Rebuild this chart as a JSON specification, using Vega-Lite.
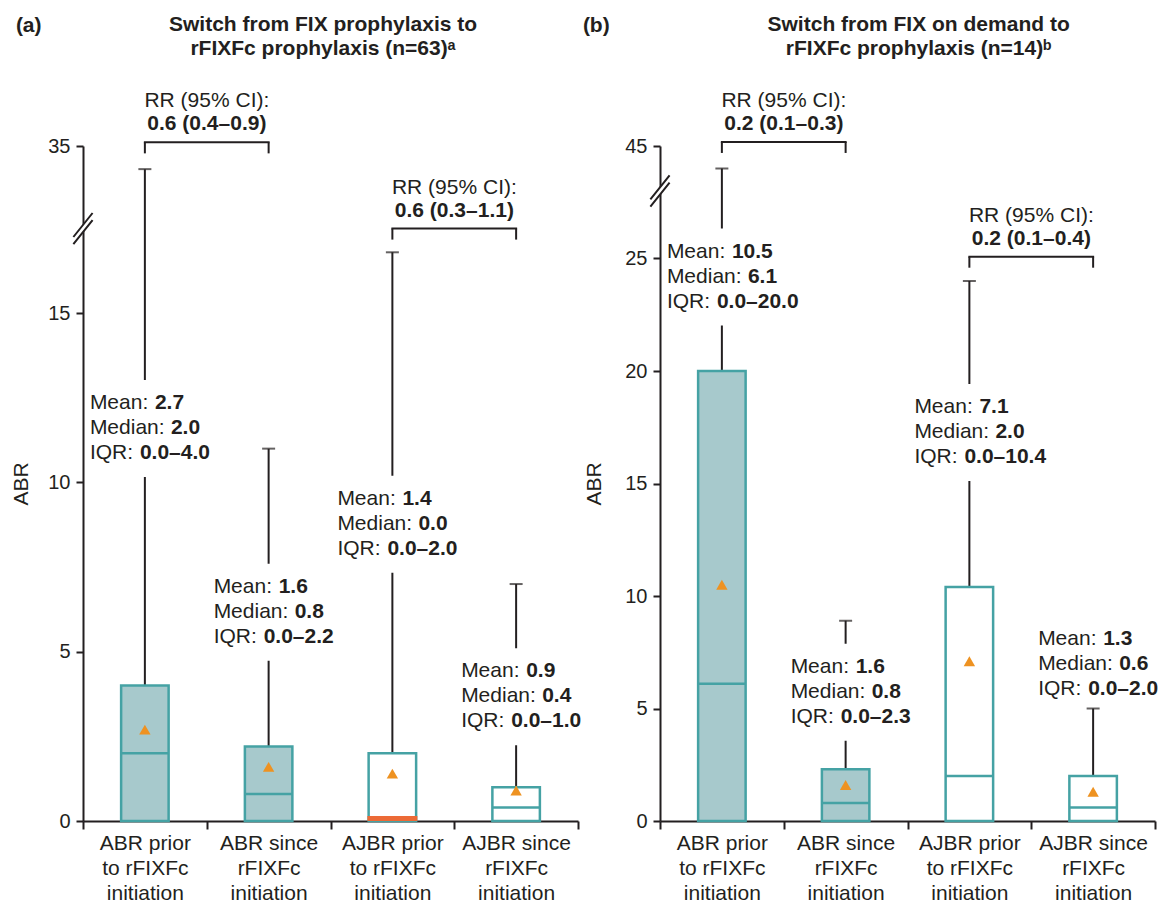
{
  "$schema": "https://vega.github.io/schema/vega-lite/v6.json",
  "padding": {"left": 10, "top": 14, "right": 2, "bottom": 2},
  "spacing": 0,
  "config": {
    "font": "Liberation Sans",
    "view": {"stroke": null},
    "axis": {"grid": false, "domainColor": "#231f20", "domainWidth": 2, "tickColor": "#231f20", "tickWidth": 2, "labelColor": "#231f20", "titleColor": "#231f20", "titleFontWeight": "normal", "titleFontSize": 21, "labelFont": "Liberation Sans", "titleFont": "Liberation Sans"},
    "axisY": {"tickSize": 7, "labelFontSize": 20, "labelPadding": 6, "titlePadding": 16},
    "axisX": {"tickSize": 8, "labelFontSize": 21, "labelPadding": 3, "labelLineHeight": 25, "labelAngle": 0, "tickBand": "extent", "labelOverlap": false, "labelBound": false},
    "text": {"font": "Liberation Sans", "fontSize": 21, "color": "#231f20"}
  },
  "datasets": {
    "boxes_a": [
      {"cat": "ABR prior to rFIXFc initiation", "type": "ABR", "q1": 0, "median": 2.0, "q3": 4.0, "mean": 2.7, "max": 34.3, "label_y": 12.17, "iqr": "0.0–4.0"},
      {"cat": "ABR since rFIXFc initiation", "type": "ABR", "q1": 0, "median": 0.8, "q3": 2.2, "mean": 1.6, "max": 11.0, "label_y": 6.74, "iqr": "0.0–2.2"},
      {"cat": "AJBR prior to rFIXFc initiation", "type": "AJBR", "q1": 0, "median": 0.0, "q3": 2.0, "mean": 1.4, "max": 16.8, "label_y": 9.34, "iqr": "0.0–2.0"},
      {"cat": "AJBR since rFIXFc initiation", "type": "AJBR", "q1": 0, "median": 0.4, "q3": 1.0, "mean": 0.9, "max": 7.0, "label_y": 4.25, "iqr": "0.0–1.0"}
    ],
    "boxes_b": [
      {"cat": "ABR prior to rFIXFc initiation", "type": "ABR", "q1": 0, "median": 6.1, "q3": 20.0, "mean": 10.5, "max": 44.0, "label_y": 25.04, "iqr": "0.0–20.0"},
      {"cat": "ABR since rFIXFc initiation", "type": "ABR", "q1": 0, "median": 0.8, "q3": 2.3, "mean": 1.6, "max": 8.9, "label_y": 6.59, "iqr": "0.0–2.3"},
      {"cat": "AJBR prior to rFIXFc initiation", "type": "AJBR", "q1": 0, "median": 2.0, "q3": 10.4, "mean": 7.1, "max": 24.0, "label_y": 18.13, "iqr": "0.0–10.4"},
      {"cat": "AJBR since rFIXFc initiation", "type": "AJBR", "q1": 0, "median": 0.6, "q3": 2.0, "mean": 1.3, "max": 5.0, "label_y": 7.82, "iqr": "0.0–2.0"}
    ],
    "brackets_a": [
      {"cat": "ABR prior to rFIXFc initiation", "cat2": "ABR since rFIXFc initiation", "by": 35.11, "rr": "0.6 (0.4–0.9)"},
      {"cat": "AJBR prior to rFIXFc initiation", "cat2": "AJBR since rFIXFc initiation", "by": 17.5, "rr": "0.6 (0.3–1.1)"}
    ],
    "brackets_b": [
      {"cat": "ABR prior to rFIXFc initiation", "cat2": "ABR since rFIXFc initiation", "by": 45.18, "rr": "0.2 (0.1–0.3)"},
      {"cat": "AJBR prior to rFIXFc initiation", "cat2": "AJBR since rFIXFc initiation", "by": 25.08, "rr": "0.2 (0.1–0.4)"}
    ],
    "titles_a": [
      {"line": "Switch from FIX prophylaxis to", "dy": -115},
      {"line": "rFIXFc prophylaxis (n=63)ᵃ", "dy": -91}
    ],
    "titles_b": [
      {"line": "Switch from FIX on demand to", "dy": -115},
      {"line": "rFIXFc prophylaxis (n=14)ᵇ", "dy": -91}
    ]
  },
  "hconcat": [
    {
      "width": 495,
      "height": 736,
      "data": {"name": "boxes_a"},
      "encoding": {
        "x": {"field": "cat", "type": "nominal", "sort": null, "title": null,
          "scale": {"domain": ["ABR prior to rFIXFc initiation", "ABR since rFIXFc initiation", "AJBR prior to rFIXFc initiation", "AJBR since rFIXFc initiation"], "paddingInner": 0, "paddingOuter": 0},
          "axis": {"labelExpr": "datum.value == 'ABR prior to rFIXFc initiation' ? ['ABR prior', 'to rFIXFc', 'initiation'] : datum.value == 'ABR since rFIXFc initiation' ? ['ABR since', 'rFIXFc', 'initiation'] : datum.value == 'AJBR prior to rFIXFc initiation' ? ['AJBR prior', 'to rFIXFc', 'initiation'] : datum.value == 'AJBR since rFIXFc initiation' ? ['AJBR since', 'rFIXFc', 'initiation'] : ''"}}
      },
      "layer": [
        {"mark": {"type": "rule", "color": "#231f20", "strokeWidth": 2},
         "encoding": {"y": {"field": "q3", "type": "quantitative", "title": "ABR", "scale": {"domain": [0, 17.5, 32.5, 35], "range": [736, 143.6, 143.6, 61], "nice": false, "zero": false}, "axis": {"values": [0, 5, 10, 15, 35]}}, "y2": {"field": "max"}}},
        {"mark": {"type": "tick", "color": "#231f20", "size": 13, "thickness": 2},
         "encoding": {"y": {"field": "max", "type": "quantitative", "title": "ABR"}}},
        {"transform": [{"filter": "datum.label_y < datum.max"}],
         "mark": {"type": "rule", "color": "white", "strokeWidth": 8, "yOffset": -29, "y2Offset": 68},
         "encoding": {"y": {"field": "label_y", "type": "quantitative", "title": "ABR"}, "y2": {"field": "label_y"}}},
        {"mark": {"type": "bar", "width": 47.5, "stroke": "#45a2a4", "strokeWidth": 2.5},
         "encoding": {"y": {"field": "q1", "type": "quantitative", "title": "ABR"}, "y2": {"field": "q3"},
           "fill": {"field": "type", "type": "nominal", "scale": {"domain": ["ABR", "AJBR"], "range": ["#a7c9cc", "#ffffff"]}, "legend": null}}},
        {"transform": [{"filter": "datum.median > 0"}],
         "mark": {"type": "tick", "color": "#45a2a4", "size": 47.5, "thickness": 2.5, "opacity": 1},
         "encoding": {"y": {"field": "median", "type": "quantitative", "title": "ABR"}}},
        {"transform": [{"filter": "datum.median == 0"}],
         "mark": {"type": "tick", "color": "#ec6a36", "size": 50, "thickness": 5, "yOffset": -2.5, "opacity": 1},
         "encoding": {"y": {"field": "median", "type": "quantitative", "title": "ABR"}}},
        {"mark": {"type": "point", "shape": "triangle-up", "filled": true, "color": "#ee9221", "size": 130, "opacity": 1, "strokeWidth": 0},
         "encoding": {"y": {"field": "mean", "type": "quantitative", "title": "ABR"}}},
        {"mark": {"type": "text", "align": "left", "baseline": "alphabetic", "dx": -55, "dy": 0, "text": "Mean:"},
         "encoding": {"y": {"field": "label_y", "type": "quantitative", "title": "ABR"}}},
        {"mark": {"type": "text", "align": "left", "baseline": "alphabetic", "dx": 10, "dy": 0, "fontWeight": "bold"},
         "encoding": {"y": {"field": "label_y", "type": "quantitative", "title": "ABR"}, "text": {"field": "mean", "type": "quantitative", "format": ".1f"}}},
        {"mark": {"type": "text", "align": "left", "baseline": "alphabetic", "dx": -55, "dy": 25, "text": "Median:"},
         "encoding": {"y": {"field": "label_y", "type": "quantitative", "title": "ABR"}}},
        {"mark": {"type": "text", "align": "left", "baseline": "alphabetic", "dx": 26, "dy": 25, "fontWeight": "bold"},
         "encoding": {"y": {"field": "label_y", "type": "quantitative", "title": "ABR"}, "text": {"field": "median", "type": "quantitative", "format": ".1f"}}},
        {"mark": {"type": "text", "align": "left", "baseline": "alphabetic", "dx": -55, "dy": 50, "text": "IQR:"},
         "encoding": {"y": {"field": "label_y", "type": "quantitative", "title": "ABR"}}},
        {"mark": {"type": "text", "align": "left", "baseline": "alphabetic", "dx": -5, "dy": 50, "fontWeight": "bold"},
         "encoding": {"y": {"field": "label_y", "type": "quantitative", "title": "ABR"}, "text": {"field": "iqr", "type": "nominal"}}},
        {"data": {"name": "brackets_a"},
         "mark": {"type": "rule", "color": "#231f20", "strokeWidth": 2, "strokeCap": "square"},
         "encoding": {"y": {"field": "by", "type": "quantitative", "title": "ABR"}, "x2": {"field": "cat2"}}},
        {"data": {"name": "brackets_a"},
         "mark": {"type": "rule", "color": "#231f20", "strokeWidth": 2, "y2Offset": 11},
         "encoding": {"y": {"field": "by", "type": "quantitative", "title": "ABR"}, "y2": {"field": "by"}}},
        {"data": {"name": "brackets_a"},
         "mark": {"type": "rule", "color": "#231f20", "strokeWidth": 2, "y2Offset": 11},
         "encoding": {"x": {"field": "cat2", "type": "nominal"}, "y": {"field": "by", "type": "quantitative", "title": "ABR"}, "y2": {"field": "by"}}},
        {"data": {"name": "brackets_a"},
         "mark": {"type": "text", "align": "center", "baseline": "alphabetic", "dx": 62, "dy": -35, "text": "RR (95% CI):"},
         "encoding": {"y": {"field": "by", "type": "quantitative", "title": "ABR"}}},
        {"data": {"name": "brackets_a"},
         "mark": {"type": "text", "align": "center", "baseline": "alphabetic", "dx": 62, "dy": -12, "fontWeight": "bold"},
         "encoding": {"y": {"field": "by", "type": "quantitative", "title": "ABR"}, "text": {"field": "rr", "type": "nominal"}}},
        {"data": {"values": [{}]},
         "mark": {"type": "point", "shape": "M-0.25,-0.05L0.25,-0.65L0.25,0.05L-0.25,0.65Z", "filled": true, "color": "white", "opacity": 1, "size": 576, "strokeWidth": 0, "xOffset": -61.9},
         "encoding": {"x": {"datum": "ABR prior to rFIXFc initiation"}, "y": {"datum": 17.5, "type": "quantitative"}}},
        {"data": {"values": [{}]},
         "mark": {"type": "point", "shape": "M-0.8,0.7L0.8,-1.3M-0.8,1.3L0.8,-0.7", "filled": false, "color": "#231f20", "opacity": 1, "size": 576, "strokeWidth": 2, "xOffset": -61.9},
         "encoding": {"x": {"datum": "ABR prior to rFIXFc initiation"}, "y": {"datum": 17.5, "type": "quantitative"}}},
        {"data": {"values": [{}]},
         "mark": {"type": "text", "text": "(a)", "align": "left", "baseline": "alphabetic", "dx": -129, "dy": -114, "fontWeight": "bold"},
         "encoding": {"x": {"datum": "ABR prior to rFIXFc initiation"}, "y": {"datum": 35, "type": "quantitative"}}},
        {"data": {"name": "titles_a"},
         "mark": {"type": "text", "align": "center", "baseline": "alphabetic", "dx": 54.4, "fontWeight": "bold"},
         "encoding": {"x": {"datum": "ABR since rFIXFc initiation"}, "y": {"datum": 35, "type": "quantitative"}, "yOffset": {"field": "dy", "type": "quantitative", "scale": null}, "text": {"field": "line", "type": "nominal"}}}
      ]
    },
    {
      "width": 495,
      "height": 736,
      "data": {"name": "boxes_b"},
      "encoding": {
        "x": {"field": "cat", "type": "nominal", "sort": null, "title": null,
          "scale": {"domain": ["ABR prior to rFIXFc initiation", "ABR since rFIXFc initiation", "AJBR prior to rFIXFc initiation", "AJBR since rFIXFc initiation"], "paddingInner": 0, "paddingOuter": 0},
          "axis": {"labelExpr": "datum.value == 'ABR prior to rFIXFc initiation' ? ['ABR prior', 'to rFIXFc', 'initiation'] : datum.value == 'ABR since rFIXFc initiation' ? ['ABR since', 'rFIXFc', 'initiation'] : datum.value == 'AJBR prior to rFIXFc initiation' ? ['AJBR prior', 'to rFIXFc', 'initiation'] : datum.value == 'AJBR since rFIXFc initiation' ? ['AJBR since', 'rFIXFc', 'initiation'] : ''"}}
      },
      "layer": [
        {"mark": {"type": "rule", "color": "#231f20", "strokeWidth": 2},
         "encoding": {"y": {"field": "q3", "type": "quantitative", "title": "ABR", "scale": {"domain": [0, 28, 43, 45], "range": [736, 106, 106, 61], "nice": false, "zero": false}, "axis": {"values": [0, 5, 10, 15, 20, 25, 45], "titlePadding": 20}}, "y2": {"field": "max"}}},
        {"mark": {"type": "tick", "color": "#231f20", "size": 13, "thickness": 2},
         "encoding": {"y": {"field": "max", "type": "quantitative", "title": "ABR"}}},
        {"transform": [{"filter": "datum.label_y < datum.max"}],
         "mark": {"type": "rule", "color": "white", "strokeWidth": 8, "yOffset": -29, "y2Offset": 68},
         "encoding": {"y": {"field": "label_y", "type": "quantitative", "title": "ABR"}, "y2": {"field": "label_y"}}},
        {"mark": {"type": "bar", "width": 47.5, "stroke": "#45a2a4", "strokeWidth": 2.5},
         "encoding": {"y": {"field": "q1", "type": "quantitative", "title": "ABR"}, "y2": {"field": "q3"},
           "fill": {"field": "type", "type": "nominal", "scale": {"domain": ["ABR", "AJBR"], "range": ["#a7c9cc", "#ffffff"]}, "legend": null}}},
        {"transform": [{"filter": "datum.median > 0"}],
         "mark": {"type": "tick", "color": "#45a2a4", "size": 47.5, "thickness": 2.5, "opacity": 1},
         "encoding": {"y": {"field": "median", "type": "quantitative", "title": "ABR"}}},
        {"transform": [{"filter": "datum.median == 0"}],
         "mark": {"type": "tick", "color": "#ec6a36", "size": 50, "thickness": 5, "yOffset": -2.5, "opacity": 1},
         "encoding": {"y": {"field": "median", "type": "quantitative", "title": "ABR"}}},
        {"mark": {"type": "point", "shape": "triangle-up", "filled": true, "color": "#ee9221", "size": 130, "opacity": 1, "strokeWidth": 0},
         "encoding": {"y": {"field": "mean", "type": "quantitative", "title": "ABR"}}},
        {"mark": {"type": "text", "align": "left", "baseline": "alphabetic", "dx": -55, "dy": 0, "text": "Mean:"},
         "encoding": {"y": {"field": "label_y", "type": "quantitative", "title": "ABR"}}},
        {"mark": {"type": "text", "align": "left", "baseline": "alphabetic", "dx": 10, "dy": 0, "fontWeight": "bold"},
         "encoding": {"y": {"field": "label_y", "type": "quantitative", "title": "ABR"}, "text": {"field": "mean", "type": "quantitative", "format": ".1f"}}},
        {"mark": {"type": "text", "align": "left", "baseline": "alphabetic", "dx": -55, "dy": 25, "text": "Median:"},
         "encoding": {"y": {"field": "label_y", "type": "quantitative", "title": "ABR"}}},
        {"mark": {"type": "text", "align": "left", "baseline": "alphabetic", "dx": 26, "dy": 25, "fontWeight": "bold"},
         "encoding": {"y": {"field": "label_y", "type": "quantitative", "title": "ABR"}, "text": {"field": "median", "type": "quantitative", "format": ".1f"}}},
        {"mark": {"type": "text", "align": "left", "baseline": "alphabetic", "dx": -55, "dy": 50, "text": "IQR:"},
         "encoding": {"y": {"field": "label_y", "type": "quantitative", "title": "ABR"}}},
        {"mark": {"type": "text", "align": "left", "baseline": "alphabetic", "dx": -5, "dy": 50, "fontWeight": "bold"},
         "encoding": {"y": {"field": "label_y", "type": "quantitative", "title": "ABR"}, "text": {"field": "iqr", "type": "nominal"}}},
        {"data": {"name": "brackets_b"},
         "mark": {"type": "rule", "color": "#231f20", "strokeWidth": 2, "strokeCap": "square"},
         "encoding": {"y": {"field": "by", "type": "quantitative", "title": "ABR"}, "x2": {"field": "cat2"}}},
        {"data": {"name": "brackets_b"},
         "mark": {"type": "rule", "color": "#231f20", "strokeWidth": 2, "y2Offset": 11},
         "encoding": {"y": {"field": "by", "type": "quantitative", "title": "ABR"}, "y2": {"field": "by"}}},
        {"data": {"name": "brackets_b"},
         "mark": {"type": "rule", "color": "#231f20", "strokeWidth": 2, "y2Offset": 11},
         "encoding": {"x": {"field": "cat2", "type": "nominal"}, "y": {"field": "by", "type": "quantitative", "title": "ABR"}, "y2": {"field": "by"}}},
        {"data": {"name": "brackets_b"},
         "mark": {"type": "text", "align": "center", "baseline": "alphabetic", "dx": 62, "dy": -35, "text": "RR (95% CI):"},
         "encoding": {"y": {"field": "by", "type": "quantitative", "title": "ABR"}}},
        {"data": {"name": "brackets_b"},
         "mark": {"type": "text", "align": "center", "baseline": "alphabetic", "dx": 62, "dy": -12, "fontWeight": "bold"},
         "encoding": {"y": {"field": "by", "type": "quantitative", "title": "ABR"}, "text": {"field": "rr", "type": "nominal"}}},
        {"data": {"values": [{}]},
         "mark": {"type": "point", "shape": "M-0.25,-0.05L0.25,-0.65L0.25,0.05L-0.25,0.65Z", "filled": true, "color": "white", "opacity": 1, "size": 576, "strokeWidth": 0, "xOffset": -61.9},
         "encoding": {"x": {"datum": "ABR prior to rFIXFc initiation"}, "y": {"datum": 28, "type": "quantitative"}}},
        {"data": {"values": [{}]},
         "mark": {"type": "point", "shape": "M-0.8,0.7L0.8,-1.3M-0.8,1.3L0.8,-0.7", "filled": false, "color": "#231f20", "opacity": 1, "size": 576, "strokeWidth": 2, "xOffset": -61.9},
         "encoding": {"x": {"datum": "ABR prior to rFIXFc initiation"}, "y": {"datum": 28, "type": "quantitative"}}},
        {"data": {"values": [{}]},
         "mark": {"type": "text", "text": "(b)", "align": "left", "baseline": "alphabetic", "dx": -139, "dy": -114, "fontWeight": "bold"},
         "encoding": {"x": {"datum": "ABR prior to rFIXFc initiation"}, "y": {"datum": 45, "type": "quantitative"}}},
        {"data": {"name": "titles_b"},
         "mark": {"type": "text", "align": "center", "baseline": "alphabetic", "dx": 73, "fontWeight": "bold"},
         "encoding": {"x": {"datum": "ABR since rFIXFc initiation"}, "y": {"datum": 45, "type": "quantitative"}, "yOffset": {"field": "dy", "type": "quantitative", "scale": null}, "text": {"field": "line", "type": "nominal"}}}
      ]
    }
  ]
}
